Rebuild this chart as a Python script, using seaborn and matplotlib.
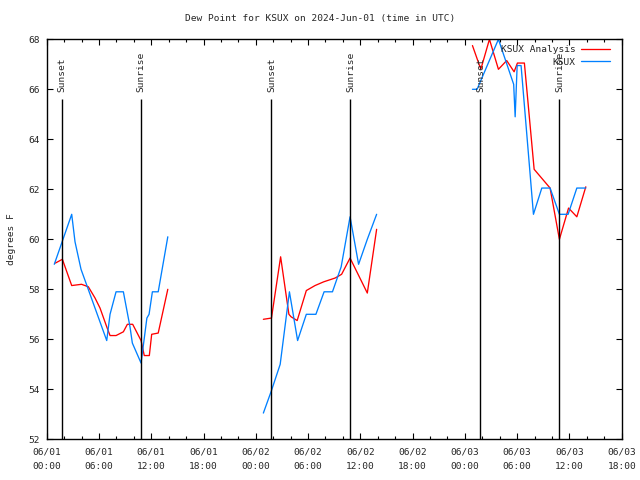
import pandas as pd
import matplotlib
matplotlib.use('Agg')
import matplotlib.pyplot as plt
from matplotlib.ticker import MultipleLocator, FixedLocator
import seaborn as sns

# hours after 2024-06-01 00:00 UTC, dew point in F
ana_h = [[1.0, 1.8, 2.87, 4.0, 4.78, 5.55, 6.12, 6.89, 7.27, 7.96, 8.8, 9.26, 9.87, 10.83, 11.2, 11.78, 12.05, 12.8, 13.9],
         [24.87, 25.8, 26.85, 27.8, 28.05, 28.75, 29.8, 30.8, 31.8, 33.1, 33.85, 34.82, 36.8, 37.87],
         [48.87, 49.83, 50.82, 51.85, 52.8, 53.65, 54.03, 54.83, 55.95, 57.78, 58.85, 59.9, 60.85, 61.88]]
ana_v = [[59.05, 59.2, 58.15, 58.2, 58.1, 57.65, 57.25, 56.5, 56.15, 56.15, 56.3, 56.6, 56.6, 55.95, 55.35, 55.35, 56.2, 56.25, 58.0],
         [56.8, 56.85, 59.3, 57.0, 56.9, 56.75, 57.95, 58.15, 58.3, 58.45, 58.6, 59.25, 57.85, 60.4],
         [67.75, 66.8, 68.0, 66.8, 67.15, 66.7, 67.05, 67.05, 62.8, 62.05, 60.0, 61.25, 60.9, 62.1]]

obs_h = [[0.87, 2.87, 3.25, 3.94, 6.89, 7.27, 7.96, 8.8, 9.56, 9.83, 10.83, 11.5, 11.75, 12.13, 12.8, 13.9],
         [24.87, 25.8, 26.8, 27.86, 28.8, 29.8, 30.9, 31.84, 32.8, 33.8, 34.82, 35.8, 36.8, 37.87],
         [48.87, 49.4, 51.85, 53.6, 53.77, 54.0, 54.45, 55.87, 56.83, 57.78, 58.85, 59.85, 60.85, 61.88]]
obs_v = [[59.0, 61.0, 59.9, 58.8, 55.95, 57.0, 57.9, 57.9, 56.5, 55.85, 55.05, 56.85, 57.0, 57.9, 57.9, 60.1],
         [53.05, 53.95, 55.0, 57.9, 55.95, 57.0, 57.0, 57.9, 57.9, 58.9, 60.9, 59.0, 60.0, 61.0],
         [66.0, 66.0, 68.0, 66.2, 64.9, 66.95, 66.95, 61.0, 62.05, 62.05, 61.0, 61.0, 62.05, 62.05]]

sunset = [1.79, 25.79, 49.78]
sunrise = [10.86, 34.86, 58.85]

rows = []
for name, hh, vv in [('KSUX Analysis', ana_h, ana_v), ('KSUX', obs_h, obs_v)]:
    for i, (h, v) in enumerate(zip(hh, vv)):
        for a, b in zip(h, v):
            rows.append({'hours': a, 'dewpoint': b, 'series': name, 'seg': f'{name}{i}'})
df = pd.DataFrame(rows)

sns.set_style('ticks')
plt.rcParams['font.family'] = ['DejaVu Sans Mono']
plt.rcParams['font.size'] = 6.8

fig = plt.figure(figsize=(6.4, 4.8), dpi=100)
ax = fig.add_axes([46.7 / 640, 1 - 439.3 / 480, 575 / 640, 400 / 480])

sns.lineplot(data=df, x='hours', y='dewpoint', hue='series', units='seg', estimator=None,
             palette={'KSUX Analysis': '#ff0000', 'KSUX': '#0080ff'}, linewidth=0.95, ax=ax, sort=False)

for x in sunset:
    ax.vlines(x, 52, 65.62, color='black', linewidth=1.0)
    ax.text(x, 65.9, 'Sunset', rotation=90, ha='center', va='bottom', fontsize=6.8)
for x in sunrise:
    ax.vlines(x, 52, 65.62, color='black', linewidth=1.0)
    ax.text(x, 65.9, 'Sunrise', rotation=90, ha='center', va='bottom', fontsize=6.8)

ax.set_xlim(0, 66)
ax.set_ylim(52, 68)
xt = list(range(0, 67, 6))
ax.xaxis.set_major_locator(FixedLocator(xt))
ax.set_xticklabels([f'06/{1 + t // 24:02d}\n{t % 24:02d}:00' for t in xt])
ax.xaxis.set_minor_locator(MultipleLocator(2))
ax.yaxis.set_major_locator(MultipleLocator(2))
for lab in ax.get_xticklabels():
    lab.set_linespacing(1.75)

ax.tick_params(which='both', direction='in', top=True, right=True, color='black', width=0.8)
ax.tick_params(which='major', length=4.3, labelsize=6.8)
ax.tick_params(axis='x', which='major', pad=6.2)
ax.tick_params(axis='y', which='major', pad=5)
ax.tick_params(which='minor', length=2.5)
for s in ax.spines.values():
    s.set_color('black')
    s.set_linewidth(1.0)

ax.set_xlabel('')
ax.set_ylabel('degrees F', fontsize=6.8)
ax.yaxis.set_label_coords(-0.054, 0.5)
fig.text(0.5, 1 - 19 / 480, 'Dew Point for KSUX on 2024-Jun-01 (time in UTC)',
         ha='center', va='center', fontsize=6.8)

leg = ax.legend(loc='upper right', bbox_to_anchor=(0.982, 0.9875), frameon=False, markerfirst=False,
                handlelength=3.1, handletextpad=0.6, labelspacing=0.35, borderpad=0.1,
                borderaxespad=0, fontsize=6.8)
for col in leg._legend_handle_box.get_children():
    col.align = 'right'

fig.savefig('out.png', dpi=100)
